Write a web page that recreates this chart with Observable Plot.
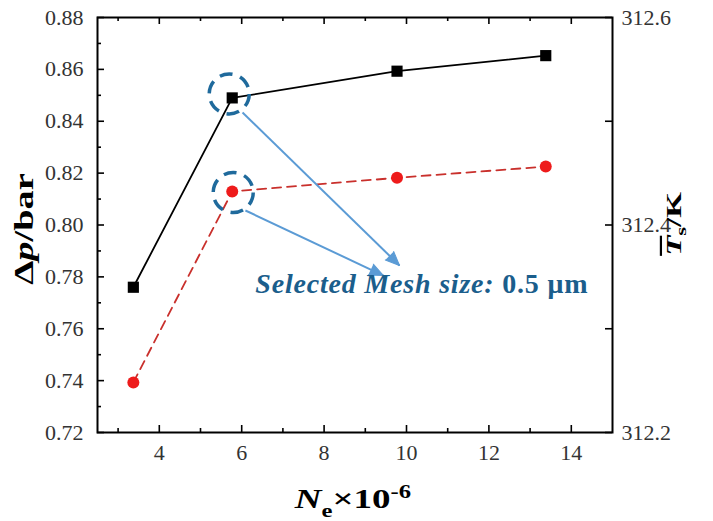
<!DOCTYPE html>
<html><head><meta charset="utf-8">
<script src="https://cdn.jsdelivr.net/npm/d3@7"></script>
<script src="https://cdn.jsdelivr.net/npm/@observablehq/plot@0.6"></script>
<style>body{margin:0;background:#fff}
svg text{font-family:"Liberation Serif","Times New Roman",serif}
</style>
</head><body><div id="chart"></div>
<script>
// ---- data ----
const meshCells = [3.37, 5.77, 9.77, 13.38];           // Ne x 10^-6
const pressureDrop = [0.776, 0.849, 0.8593, 0.8653];   // Δp / bar (left axis)
const surfaceTemp = [312.2483, 312.4323, 312.4455, 312.4563]; // Ts / K (right axis)
const selectedIndex = 1;
const xTicks = [4, 6, 8, 10, 12, 14];
const xMinorTicks = [3, 5, 7, 9, 11, 13];
const leftTicks = [0.72, 0.74, 0.76, 0.78, 0.80, 0.82, 0.84, 0.86, 0.88];
const leftMinorTicks = [0.73, 0.75, 0.77, 0.79, 0.81, 0.83, 0.85, 0.87];
const rightTicks = [312.2, 312.4, 312.6];
const rightMinorTicks = [312.3, 312.5];
const calloutText = ["Selected Mesh size: 0.5 μm"];
const calloutX = [6.33];
const calloutY = [0.7736];
const arrowX1 = [6.02, 6.09];
const arrowY1 = [0.8434, 0.8056];
const arrowX2 = [9.83, 9.44];
const arrowY2 = [0.7844, 0.7805];

// ---- layout ----
const W = 713, H = 521, mL = 97, mR = 101, mT = 17, mB = 89;
const pw = W - mL - mR, ph = H - mT - mB;
const xDomain = [2.5, 15], yDomain = [0.72, 0.88], tDomain = [312.2, 312.6];
const tempToLeft = t => yDomain[0] + (t - tDomain[0]) * (yDomain[1] - yDomain[0]) / (tDomain[1] - tDomain[0]);
const leftToTemp = v => tDomain[0] + (v - yDomain[0]) * (tDomain[1] - tDomain[0]) / (yDomain[1] - yDomain[0]);

const rows = meshCells.map((x, i) => ({x, dp: pressureDrop[i], ts: tempToLeft(surfaceTemp[i])}));
const arrows = arrowX1.map((x1, i) => {
  const kx = pw / (xDomain[1] - xDomain[0]), ky = ph / (yDomain[1] - yDomain[0]);
  const ang = Math.atan2((arrowX2[i] - x1) * kx, (arrowY2[i] - arrowY1[i]) * ky) * 180 / Math.PI;
  return {x1, y1: arrowY1[i], x2: arrowX2[i], y2: arrowY2[i], ang};
});

const major = 7, minor = 4;
const axisColor = "#333";
const blueDark = "#1f6a9c", blueLight = "#5b9bd5", textBlue = "#1b5e8c";

const chart = Plot.plot({
  width: W, height: H,
  marginLeft: mL, marginRight: mR, marginTop: mT, marginBottom: mB,
  x: {domain: xDomain, label: null},
  y: {domain: yDomain, label: null},
  style: {fontSize: "22px", color: axisColor, background: "white", overflow: "visible"},
  marks: [
    Plot.axisX(xTicks, {tickSize: 0, tickPadding: 12, tickFormat: d => String(d), label: null}),
    Plot.axisY(leftTicks, {anchor: "left", tickSize: 0, tickPadding: 14, tickFormat: d => d.toFixed(2), label: null}),
    Plot.axisY(rightTicks.map(tempToLeft), {anchor: "right", tickSize: 0, tickPadding: 9, tickFormat: d => leftToTemp(d).toFixed(1), label: null}),
    // inward ticks
    Plot.ruleX(xTicks, {insetTop: ph - major, stroke: "black", strokeWidth: 1.6}),
    Plot.ruleX(xMinorTicks, {insetTop: ph - minor, stroke: "black", strokeWidth: 1.6}),
    Plot.ruleX(xTicks, {insetBottom: ph - major, stroke: "black", strokeWidth: 1.6}),
    Plot.ruleX(xMinorTicks, {insetBottom: ph - minor, stroke: "black", strokeWidth: 1.6}),
    Plot.ruleY(leftTicks, {insetRight: pw - major, stroke: "black", strokeWidth: 1.6}),
    Plot.ruleY(leftMinorTicks, {insetRight: pw - minor, stroke: "black", strokeWidth: 1.6}),
    Plot.ruleY(rightTicks.concat(rightMinorTicks).map(tempToLeft), {insetLeft: pw - major, stroke: "black", strokeWidth: 1.6}),
    Plot.frame({stroke: "black", strokeWidth: 2}),
    // series
    Plot.line(rows, {x: "x", y: "dp", stroke: "black", strokeWidth: 1.8}),
    Plot.line(rows, {x: "x", y: "ts", stroke: "#c9302c", strokeWidth: 1.8, strokeDasharray: "9,6"}),
    Plot.dot(rows, {x: "x", y: "dp", symbol: "square", r: 6.3, fill: "black", stroke: "none"}),
    Plot.dot(rows, {x: "x", y: "ts", r: 6, fill: "#ee1b1b", stroke: "none"}),
    // annotations
    Plot.dot([rows[selectedIndex]], {x: "x", y: "dp", r: 20, fill: "none", stroke: blueDark, strokeWidth: 3.5, strokeDasharray: "13,8", dx: -3, dy: -4}),
    Plot.dot([rows[selectedIndex]], {x: "x", y: "ts", r: 20, fill: "none", stroke: blueDark, strokeWidth: 3.5, strokeDasharray: "13,8", dx: 1, dy: 1}),
    Plot.link(arrows, {x1: "x1", y1: "y1", x2: "x2", y2: "y2", stroke: blueLight, strokeWidth: 2}),
    Plot.vector(arrows, {x: "x2", y: "y2", rotate: "ang", length: 14, r: 6, shape: "spike", anchor: "end", fill: blueLight, stroke: blueLight, strokeWidth: 1}),
    Plot.text(calloutText, {x: calloutX, y: calloutY, text: d => d, textAnchor: "start", lineAnchor: "bottom", fill: textBlue, fontSize: 28, fontWeight: "bold"})
  ]
});

const svg = d3.select(chart);
// split callout into italic + upright parts
svg.selectAll("text").filter(function() { return this.textContent === calloutText[0]; }).each(function() {
  const t = d3.select(this);
  const [a, b] = calloutText[0].split(": ");
  t.text(null).style("letter-spacing", "0.8px");
  t.append("tspan").attr("font-style", "italic").text(a + ": ");
  t.append("tspan").text(b);
});

// axis titles with rich text
const yt = svg.append("text").attr("transform", "translate(33,229) rotate(-90) scale(1.37,1)")
  .attr("text-anchor", "middle").attr("font-size", 28).attr("font-weight", "bold").attr("fill", "black");
yt.append("tspan").text("Δ");
yt.append("tspan").attr("font-style", "italic").text("p");
yt.append("tspan").text("/bar");

const rt = svg.append("text").attr("transform", "translate(681,224) rotate(-90) scale(1.5,1)")
  .attr("text-anchor", "middle").attr("font-size", 22).attr("font-weight", "bold").attr("fill", "black");
rt.append("tspan").attr("font-style", "italic").style("text-decoration", "overline").text("T");
rt.append("tspan").attr("font-size", 15).attr("dy", 5).text("s");
rt.append("tspan").attr("dy", -5).text("/K");

const xt = svg.append("text").attr("transform", "translate(353,508) scale(1.37,1)")
  .attr("text-anchor", "middle").attr("font-size", 27).attr("font-weight", "bold").attr("fill", "black");
xt.append("tspan").attr("font-style", "italic").text("N");
xt.append("tspan").attr("font-size", 18).attr("dy", 9).text("e");
xt.append("tspan").attr("dy", -9).text("×10");
xt.append("tspan").attr("font-size", 18).attr("dy", -10).text("-6");

document.getElementById("chart").appendChild(chart);
</script>
</body></html>
